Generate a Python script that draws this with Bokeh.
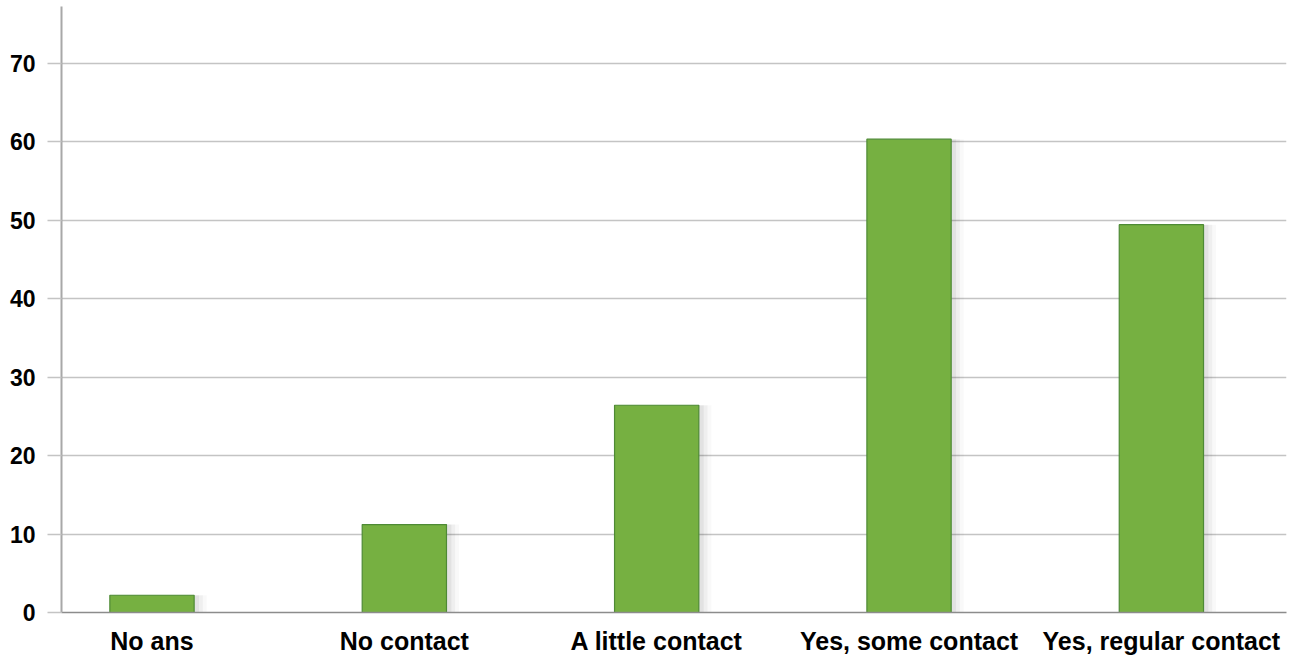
from bokeh.plotting import figure
from bokeh.models import Range1d, FixedTicker, ColumnDataSource
from bokeh.embed import file_html
from bokeh.resources import INLINE

categories = ["No ans", "No contact", "A little contact", "Yes, some contact", "Yes, regular contact"]
values = [2.2, 11.2, 26.4, 60.3, 49.4]
y_ticks = [0, 10, 20, 30, 40, 50, 60, 70]

xs = list(range(len(categories)))
src = ColumnDataSource(dict(x=xs, top=values,
                            xs1=[x + 0.014 for x in xs], xs2=[x + 0.024 for x in xs],
                            xs3=[x + 0.032 for x in xs]))

p = figure(frame_width=1225, frame_height=606, output_backend="svg", toolbar_location=None,
           x_range=Range1d(-0.3586, 4.4958), y_range=Range1d(0, 77.2),
           min_border_left=61, min_border_right=11, min_border_top=6, min_border_bottom=0)
p.outline_line_color = None
p.background_fill_color = "white"
p.border_fill_color = "white"

# soft shadow
p.vbar(x="xs3", top="top", width=0.37, bottom=-0.8, source=src, fill_color="black",
       fill_alpha=0.025, line_color=None)
p.vbar(x="xs2", top="top", width=0.355, bottom=-0.6, source=src, fill_color="black",
       fill_alpha=0.04, line_color=None)
p.vbar(x="xs1", top="top", width=0.345, bottom=-0.4, source=src, fill_color="black",
       fill_alpha=0.05, line_color=None)

p.vbar(x="x", top="top", width=0.334, source=src, fill_color="#76B041",
       line_color="#4E8A35", line_width=1.2)

p.xgrid.grid_line_color = None
p.ygrid.ticker = FixedTicker(ticks=y_ticks)
p.ygrid.grid_line_color = "#c4c4c4"
p.ygrid.grid_line_width = 1.5

p.yaxis.ticker = FixedTicker(ticks=y_ticks)
p.yaxis.axis_line_color = "#a8a8a8"
p.yaxis.axis_line_width = 2
p.yaxis.major_tick_out = 14
p.yaxis.major_tick_in = 0
p.yaxis.major_tick_line_color = "#c4c4c4"
p.yaxis.major_tick_line_width = 1.5
p.yaxis.minor_tick_line_color = None
p.yaxis.major_label_standoff = 12
p.yaxis.major_label_text_font = "Liberation Sans"
p.yaxis.major_label_text_font_style = "bold"
p.yaxis.major_label_text_font_size = "23px"
p.yaxis.major_label_text_color = "black"

p.xaxis.ticker = FixedTicker(ticks=xs)
p.xaxis.major_label_overrides = {i: c for i, c in enumerate(categories)}
p.xaxis.axis_line_color = "#8c8c8c"
p.xaxis.axis_line_width = 1.5
p.xaxis.major_tick_line_color = None
p.xaxis.minor_tick_line_color = None
p.xaxis.major_tick_out = 0
p.xaxis.major_label_standoff = 14
p.xaxis.major_label_text_font = "Liberation Sans"
p.xaxis.major_label_text_font_style = "bold"
p.xaxis.major_label_text_font_size = "25px"
p.xaxis.major_label_text_color = "black"

open("out.html", "w").write(file_html(p, INLINE))
